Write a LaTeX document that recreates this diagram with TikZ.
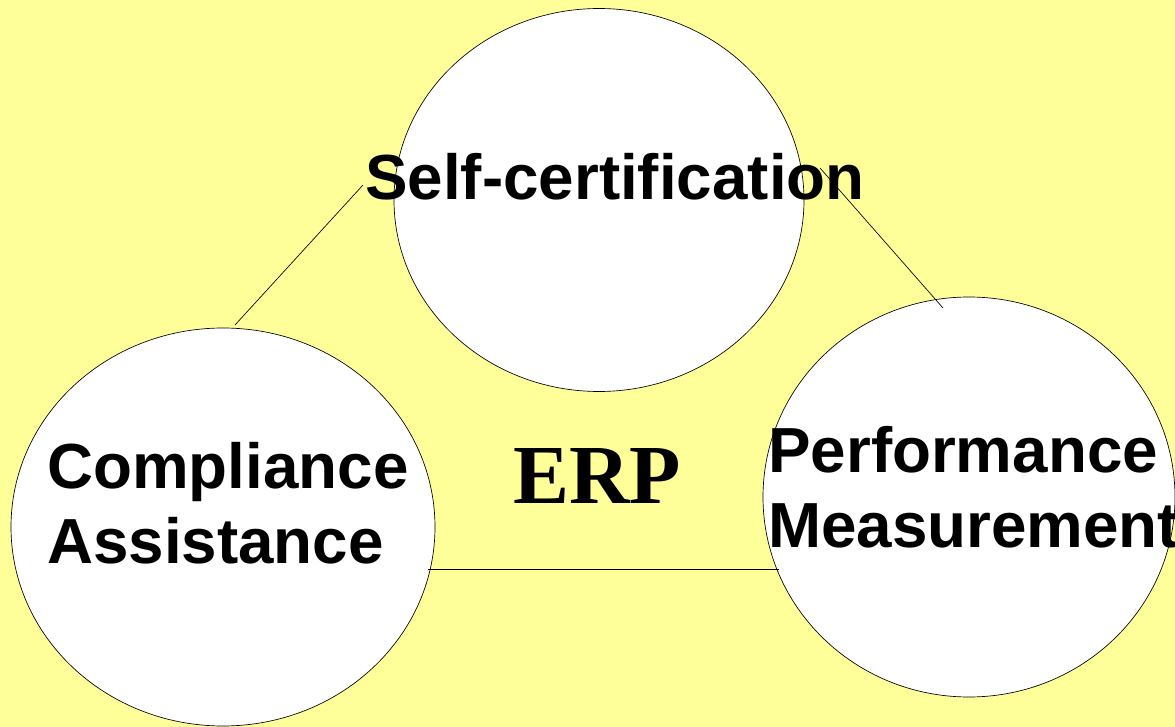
\documentclass[tikz,border=0pt]{standalone}
\usepackage{fontspec}
\setmainfont{Liberation Sans}
\newfontfamily\erpfont{Liberation Serif}
\usetikzlibrary{shapes.geometric}
\definecolor{slideyellow}{HTML}{FFFF99}
\tikzset{
  bubble/.style={ellipse, draw=black, line width=0.5pt, fill=white, inner sep=0pt},
  label/.style={anchor=base west, inner sep=0pt, font=\fontsize{47.8pt}{56.25pt}\selectfont\bfseries},
  link/.style={draw=black, line width=0.5pt}
}
\begin{document}
\begin{tikzpicture}[x=0.75pt, y=-0.75pt]
% background of the slide
\fill[slideyellow] (0,0) rectangle (1175,727);
\useasboundingbox (0,0) rectangle (1175,727);

% the three bubbles
\node[bubble, minimum width=410*0.75pt, minimum height=383*0.75pt] (self) at (599,200) {};
\node[bubble, minimum width=424*0.75pt, minimum height=398*0.75pt] (comp) at (223,527) {};
\node[bubble, minimum width=412*0.75pt, minimum height=400*0.75pt] (perf) at (969,497) {};

% connectors
\coordinate (selfL) at (363,185);
\coordinate (compT) at (235,325);
\coordinate (selfR) at (820,168);
\coordinate (perfT) at (943,308);
\coordinate (compR) at (428,569);
\coordinate (perfL) at (779,569);
\draw[link] (selfL) -- (compT);
\draw[link] (selfR) -- (perfT);
\draw[link] (compR) -- (perfL);

% texts (base anchor = last line)
\node[label] (selftxt) at (365,200) {Self-certification};
\node[label, align=left] (comptxt) at (47,563) {Compliance\\Assistance};
\node[label, align=left] (perftxt) at (768,547) {Performance\\Measurement};
\node[anchor=base west, inner sep=0pt, font=\erpfont\fontsize{63pt}{70pt}\selectfont\bfseries] (erp) at (513,503) {ERP};
\end{tikzpicture}
\end{document}
